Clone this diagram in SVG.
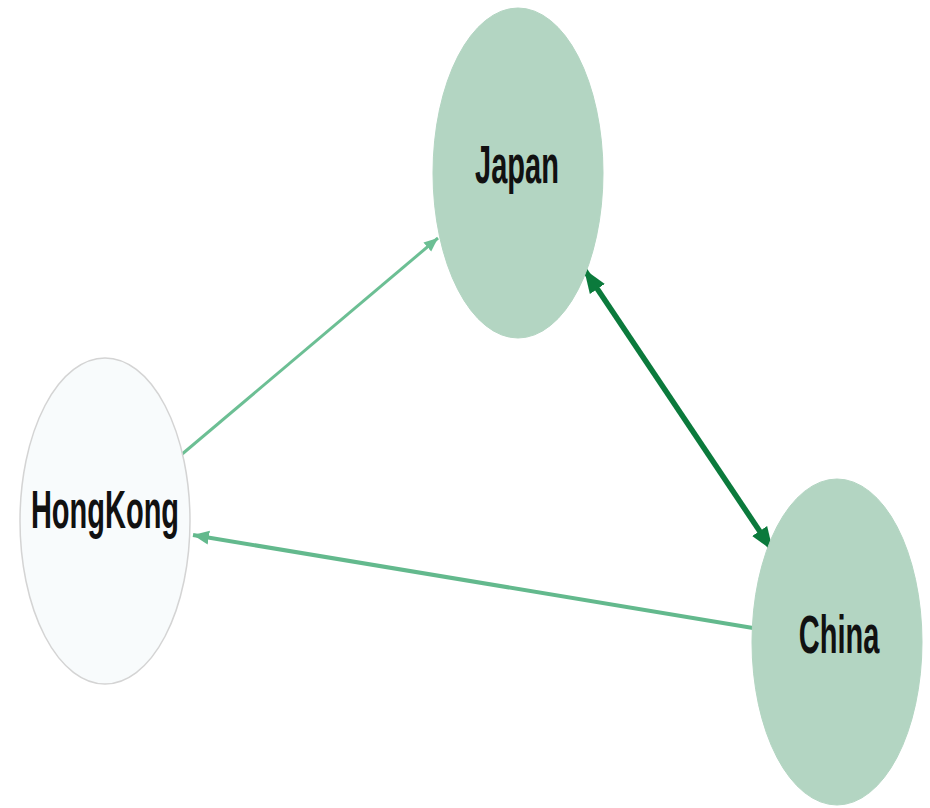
<svg xmlns="http://www.w3.org/2000/svg" width="930" height="808" viewBox="0 0 930 808">
<style>
.node{fill:#b3d5c2;stroke:#b3d5c2;stroke-width:1}
.hk{fill:#f8fbfc;stroke:#d4d4d4;stroke-width:1.5}
.lbl{font-family:"Liberation Sans",Arial,sans-serif;font-weight:bold;font-size:29px;fill:#111;text-anchor:middle}
.e1{stroke:#6cbf94;stroke-width:3;fill:none}
.e2{stroke:#63b98d;stroke-width:4;fill:none}
.e3{stroke:#0b7a3c;stroke-width:5.5;fill:none}
</style>
<defs>
<marker id="aL" markerUnits="userSpaceOnUse" markerWidth="16" markerHeight="14" refX="14" refY="7" orient="auto"><path d="M0,1 L14,7 L0,13 Z" fill="#6cbf94"/></marker>
<marker id="aM" markerUnits="userSpaceOnUse" markerWidth="18" markerHeight="16" refX="16" refY="8" orient="auto"><path d="M0,1 L16,8 L0,15 Z" fill="#63b98d"/></marker>
<marker id="aD" markerUnits="userSpaceOnUse" markerWidth="26" markerHeight="20" refX="24" refY="10" orient="auto"><path d="M0,1 L24,10 L0,19 Z" fill="#0b7a3c"/></marker>
<marker id="aDs" markerUnits="userSpaceOnUse" markerWidth="26" markerHeight="20" refX="24" refY="10" orient="auto-start-reverse"><path d="M0,1 L24,10 L0,19 Z" fill="#0b7a3c"/></marker>
</defs>
<g id="connectors">
<line class="e1" x1="181" y1="455" x2="438" y2="238" marker-end="url(#aL)"/>
<line class="e2" x1="753" y1="628" x2="193" y2="535" marker-end="url(#aM)"/>
<line class="e3" x1="584" y1="269" x2="773" y2="551" marker-start="url(#aDs)" marker-end="url(#aD)"/>
</g>
<g id="japan">
<ellipse class="node" cx="518" cy="173" rx="85" ry="165"/>
<text class="lbl" transform="translate(517,183) scale(1,1.88)">Japan</text>
</g>
<g id="hongkong">
<ellipse class="hk" cx="105" cy="521" rx="85" ry="163"/>
<text class="lbl" transform="translate(105,528) scale(1,1.88)">HongKong</text>
</g>
<g id="china">
<ellipse class="node" cx="837" cy="642" rx="85" ry="163"/>
<text class="lbl" transform="translate(839,653) scale(1,1.88)">China</text>
</g>
</svg>
